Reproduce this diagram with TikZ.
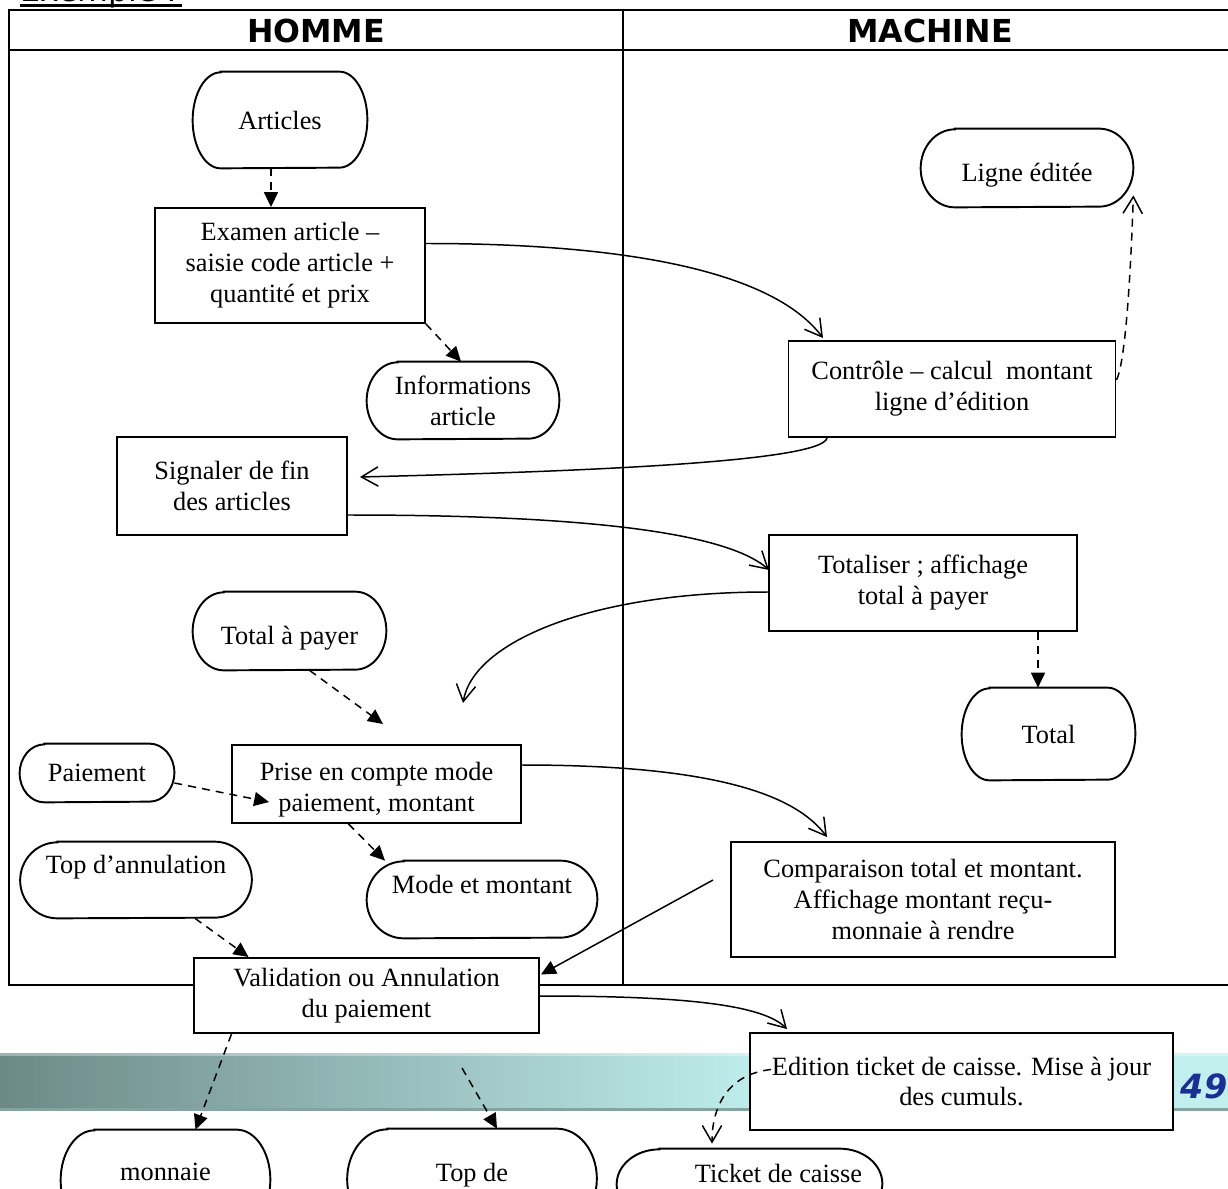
\documentclass[tikz,border=0pt]{standalone}
\usepackage{fontspec}
\setmainfont{Liberation Serif}
\newfontfamily\versans{DejaVu Sans}
\usetikzlibrary{arrows.meta, calc}

\newdimen\pxu
\pxu=0.02cm

\definecolor{bandL}{HTML}{6C8987}
\definecolor{bandR}{HTML}{C0EFEE}
\definecolor{bandLine}{HTML}{84A4A2}
\definecolor{pagenum}{HTML}{1A2E96}

\begin{document}
\begin{tikzpicture}[
    x=0.02cm, y=-0.02cm,
    txt/.style={font=\fontsize{15}{17.6}\selectfont},
    head/.style={font=\versans\bfseries\fontsize{18}{20}\selectfont},
    grid/.style={line width=1.2pt},
    box/.style={
        draw,
        fill=white,
        line width=1.1pt,
        align=center,
        txt,
        inner sep=0pt
    },
    act/.style 2 args={box, minimum width=#1*\pxu, minimum height=#2*\pxu},
    term/.style 2 args={
        txt, align=center, inner sep=0pt,
        minimum width=#1*\pxu, minimum height=#2*\pxu,
        append after command={\pgfextra{
            \draw[line width=1.1pt]
              ([xshift=0.161*#1*\pxu]\tikzlastnode.north west)
              -- ([xshift=-0.161*#1*\pxu]\tikzlastnode.north east)
              arc[start angle=90, end angle=-90, x radius=0.161*#1*\pxu, y radius=0.5*#2*\pxu]
              -- ([xshift=0.161*#1*\pxu]\tikzlastnode.south west)
              arc[start angle=270, end angle=90, x radius=0.161*#1*\pxu, y radius=0.5*#2*\pxu]
              -- cycle;}}
    },
    flow/.style={line width=0.85pt, -{Straight Barb[length=9.5pt,width=11pt]}},
    dsh/.style={line width=0.85pt, dash pattern=on 4.5pt off 3.5pt,
        -{Triangle[length=8.5pt,width=8pt]}},
    dshopen/.style={line width=0.85pt, dash pattern=on 4.5pt off 3.5pt,
        -{Straight Barb[length=9.5pt,width=11pt]}}
]
\useasboundingbox (0,0) rectangle (1228,1189);

% slide band
\shade[left color=bandL, right color=bandR] (0,1053) rectangle (770,1108);
\fill[bandR] (770,1053) rectangle (1228,1108);
\fill[white, opacity=0.35] (0,1053) rectangle (1228,1056);
\fill[bandLine] (0,1108) rectangle (1228,1111);
\node[font=\versans\bfseries\itshape\fontsize{19}{20}\selectfont, text=pagenum] (page) at (1204,1086) {49};

\node[font=\versans\fontsize{18}{20}\selectfont, anchor=base west, inner sep=0pt] (exemple) at (20,2) {Exemple :};
\draw[line width=1.2pt] ($(exemple.base west)+(0,3.5)$) -- ($(exemple.base east)+(4,3.5)$);

% table
\draw[grid] (9,10) rectangle (1240,985);
\draw[grid] (9,50) -- (1240,50);
\draw[grid] (623,10) -- (623,985);
\node[head] (homme) at (316,31) {HOMME};
\node[head] (machine) at (930,31) {MACHINE};

% HOMME side
\node[term={174}{96}] (articles) at (280,120) {Articles};
\node[act={270}{115}] (examen) at (290,265.5) {Examen article –\\saisie code article +\\quantité et prix};
\node[term={192}{77}] (infos) at (463,400.5) {Informations\\article};
\node[act={230}{98}] (signaler) at (232,486) {Signaler de fin\\des articles};
\node[term={193}{78}, text height=19pt, text depth=3.5pt] (apayer) at (289.5,631) {Total à payer};
\node[term={154}{58}] (paiement) at (97,773) {Paiement};
\node[act={289}{78}, text height=35pt, text depth=3.5pt] (prise) at (376.5,784) {Prise en compte mode\\paiement, montant};
\node[term={231}{76}, text height=11pt, text depth=18pt] (annul) at (136,880) {Top d’annulation};
\node[term={230}{77}, text height=11pt, text depth=18pt] (mode) at (482,899.5) {Mode et montant};
\node[act={345}{75}] (valid) at (366.5,995.5) {Validation ou Annulation\\du paiement};

% MACHINE side
\node[term={212}{78}, text height=19pt, text depth=3.5pt] (ligne) at (1027,168) {Ligne éditée};
\node[act={327}{96}] (controle) at (952,389) {Contrôle – calcul~~montant\\ligne d’édition};
\node[act={308}{96}] (totaliser) at (923,583) {Totaliser ; affichage\\total à payer};
\node[term={173}{92}] (total) at (1048.5,734) {Total};
\node[act={384}{115}] (compar) at (923,899.5) {Comparaison total et montant.\\Affichage montant reçu-\\monnaie à rendre};
\node[act={423}{97}] (edition) at (961.5,1081.5) {Edition ticket de caisse. Mise à jour\\des cumuls.};

% outputs below
\node[term={209}{100}, text height=11pt, text depth=10.3pt] (monnaie) at (165.5,1180) {monnaie};
\node[term={249}{100}, text height=11pt, text depth=8.1pt] (topde) at (472,1179) {Top de};
\node[term={265}{70}, text height=11pt, text depth=12.6pt] (ticket) at (749.5,1184) {\hspace*{58\pxu}Ticket de caisse};

\coordinate (totend) at (463,703);
\coordinate (payend) at (383,724);
\coordinate (compstart) at (713,880);
\coordinate (topstart) at (462,1068);

% connectors
\draw[dsh] ($(articles.south)+(-9,0)$) -- ($(examen.north)+(-19,0)$);
\draw[dsh] (examen.south east) -- ($(infos.north)+(-2,0)$);
\draw[flow] ($(examen.east)+(0,-22)$) .. controls +(225,0) and +(-45,-60) .. ($(controle.north)+(-129,-2)$);
\draw[dshopen] ($(controle.east)+(0,-9)$) .. controls +(10,-20) and +(-2,60) .. ($(ligne.south east)+(0,-12)$);
\draw[flow] ($(controle.south)+(-125,0)$) .. controls +(-5,25) and +(200,-5) .. ($(signaler.east)+(12,-9)$);
\draw[flow] ($(signaler.east)+(0,29)$) .. controls +(220,0) and +(-45,-40) .. ($(totaliser.west)+(1,-13)$);
\draw[flow] ($(totaliser.west)+(0,9)$) .. controls +(-180,0) and +(10,-60) .. (totend);
\draw[dsh] ($(apayer.south)+(20,0)$) -- (payend);
\draw[dsh] ($(totaliser.south)+(115,0)$) -- ($(total.north)+(-10.5,0)$);
\draw[dsh] ($(paiement.east)+(0,10)$) -- ($(prise.west)+(38,18)$);
\draw[dsh] ($(prise.south)+(-28,0)$) -- ($(mode.north)+(-97,0)$);
\draw[flow] ($(prise.east)+(0,-19)$) .. controls +(200,0) and +(-30,-40) .. ($(compar.north)+(-96,-4)$);
\draw[line width=0.85pt, -{Triangle[length=8.5pt,width=8pt]}] (compstart) -- ($(valid.east)+(1,-21)$);
\draw[dsh] ($(annul.south)+(59,0)$) -- ($(valid.north)+(-118,0)$);
\draw[flow] ($(valid.east)+(0,0.5)$) .. controls +(140,0) and +(-25,-25) .. ($(edition.north)+(-174.5,-3)$);
\draw[dsh] ($(valid.south)+(-135,0)$) -- ($(monnaie.north)+(30,0)$);
\draw[dsh] (topstart) -- ($(topde.north)+(25,0)$);
\draw[dshopen] ($(edition.west)+(22,-12)$) .. controls +(-45,5) and +(0,-35) .. ($(ticket.north)+(-37.5,-5)$);

\end{tikzpicture}
\end{document}
